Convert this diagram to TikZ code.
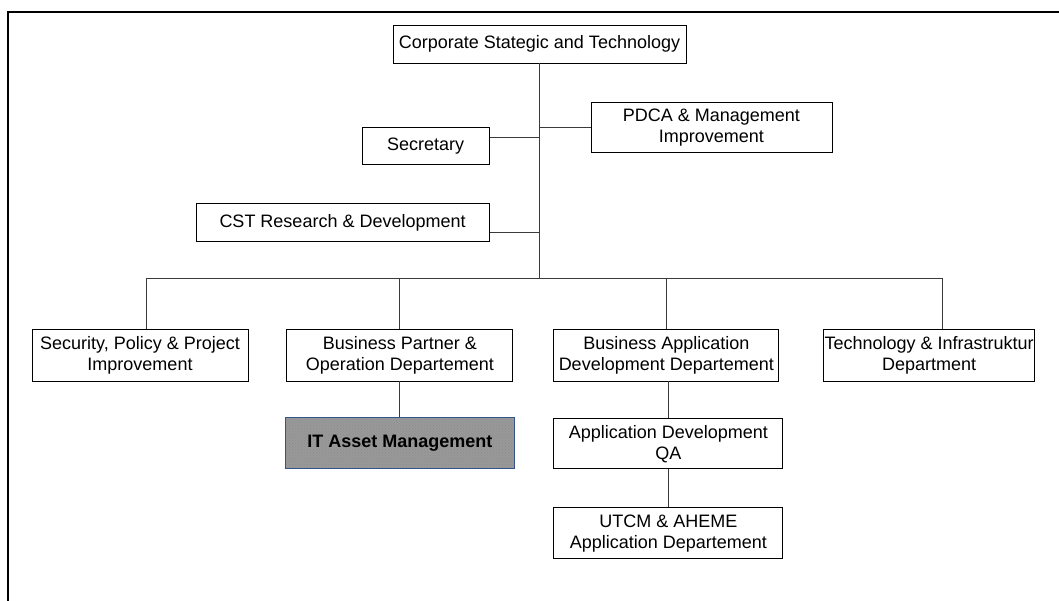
\documentclass[tikz,border=0pt]{standalone}
\usepackage{fontspec}
\setmainfont{Liberation Sans}
\usetikzlibrary{positioning,patterns}
\definecolor{wire}{HTML}{3A3A3A}
\definecolor{edgeblue}{HTML}{34548C}
\tikzset{
  box/.style={draw=black,line width=0.9pt,fill=white,align=center,inner sep=0pt,font=\fontsize{18}{21}\selectfont},
  asset/.style={draw=edgeblue,line width=0.9pt,align=center,inner sep=0pt,preaction={fill=gray!80},pattern=crosshatch dots,pattern color=black!45,font=\fontsize{18}{21}\selectfont\bfseries},
  link/.style={draw=wire,line width=1pt},
  frame/.style={draw=black,line width=2.2pt}
}
\begin{document}
\begin{tikzpicture}[node distance=40pt]
  \useasboundingbox (0,0) rectangle (1059pt,-601pt);
  \draw[frame] (1070pt,-12pt) -- (8pt,-12pt) -- (8pt,-612pt);
  \node[box,minimum width=293pt,minimum height=38pt] (corp) at (539.5pt,-44pt) {Corporate Stategic and Technology};
  \coordinate (jpdca) at ([yshift=-64pt]corp.south);
  \coordinate (jsec) at ([yshift=-74pt]corp.south);
  \coordinate (jrnd) at ([yshift=-169pt]corp.south);
  \coordinate (bus) at ([yshift=-216pt]corp.south);
  \node[box,minimum width=241pt,minimum height=50pt,right=51pt of jpdca] (pdca) {PDCA \& Management\\Improvement};
  \node[box,minimum width=127pt,minimum height=37pt,left=50pt of jsec,yshift=-8.5pt] (secretary) {Secretary};
  \node[box,minimum width=293pt,minimum height=38pt,left=50pt of jrnd,yshift=10pt] (rnd) {CST Research \& Development};
  % departments
  \node[box,minimum width=216pt,minimum height=52pt] (security) at (140pt,-355pt) {Security, Policy \& Project\\Improvement};
  \node[box,minimum width=226pt,minimum height=52pt,right=38pt of security] (partner) {Business Partner \&\\Operation Departement};
  \node[box,minimum width=225pt,minimum height=52pt,right=40pt of partner] (appdev) {Business Application\\Development Departement};
  \node[box,minimum width=211pt,minimum height=52pt,right=44pt of appdev] (infra) {Technology \& Infrastruktur\\Department};
  \node[asset,minimum width=229pt,minimum height=51pt,below=36pt of partner] (itasset) {IT Asset Management};
  \node[box,minimum width=229pt,minimum height=50pt,below=37pt of appdev,xshift=2pt] (qa) {Application Development\\QA};
  \node[box,minimum width=229pt,minimum height=51pt,below=38pt of qa] (utcm) {UTCM \& AHEME\\Application Departement};
  % connectors
  \draw[link] (corp) -- (bus);
  \draw[link] (jpdca) -- (pdca);
  \draw[link] (jsec) -- (jsec -| secretary.east);
  \draw[link] (jrnd) -- (jrnd -| rnd.east);
  \draw[link] ([xshift=6pt]security.north) -- ++(0,50pt) -| ([xshift=13.5pt]infra.north);
  \draw[link] (partner.north) -- (partner.north |- bus);
  \draw[link] (appdev.north) -- (appdev.north |- bus);
  \draw[link] (partner.south) -- (itasset.north);
  \draw[link] (qa.north |- appdev.south) -- (qa.north);
  \draw[link] (qa) -- (utcm);
\end{tikzpicture}
\end{document}
